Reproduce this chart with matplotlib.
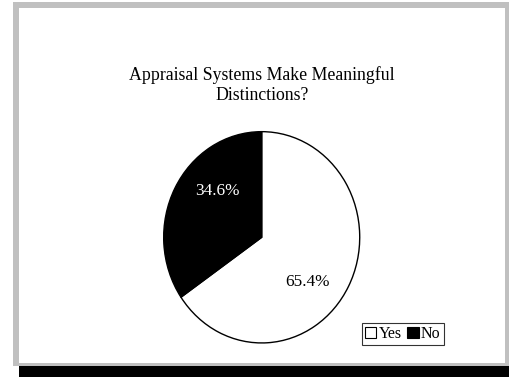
import matplotlib
matplotlib.use("Agg")
import matplotlib.pyplot as plt
from matplotlib.patches import Rectangle, Patch

categories = ["Yes", "No"]
values = [65.4, 34.6]
colors = ["white", "black"]
label_colors = ["black", "white"]
title = "Appraisal Systems Make Meaningful\nDistinctions?"

W, H = 510, 377
fig = plt.figure(figsize=(W / 100, H / 100), dpi=100)
plt.rcParams['font.family'] = ['Liberation Serif', 'DejaVu Serif']

def px_rect(x0, y0, x1, y1, color, z):
    r = Rectangle((x0 / W, 1 - y1 / H), (x1 - x0) / W, (y1 - y0) / H,
                  transform=fig.transFigure, facecolor=color, edgecolor='none', zorder=z)
    fig.add_artist(r)

# frame
px_rect(19, 366, 510, 377, 'black', 0)
px_rect(13, 2, 510, 366, '#c0c0c0', 1)
px_rect(19, 8, 505, 363, 'white', 2)

cx, cy, rx, ry = 261.7, 237.3, 99.0, 106.7
ax = fig.add_axes([(cx - rx) / W, 1 - (cy + ry) / H, 2 * rx / W, 2 * ry / H])
ax.set_zorder(5)
wedges, texts, autotexts = ax.pie(values, colors=colors, startangle=90, counterclock=False,
                                  wedgeprops=dict(edgecolor='black', linewidth=1.0),
                                  autopct='%1.1f%%', pctdistance=0.63,
                                  textprops=dict(fontsize=12.4))
ax.set_aspect('auto')
ax.set_xlim(-1.01, 1.01)
ax.set_ylim(-1.01, 1.01)
ax.axis('off')
label_pos = [(0.47, -0.42), (-0.45, 0.44)]
for t, c, p in zip(autotexts, label_colors, label_pos):
    t.set_color(c)
    t.set_position(p)

fig.text(cx / W, 1 - 85 / H, title, ha='center', va='center', fontsize=12.8,
         linespacing=1.2, zorder=6)

handles = [Patch(facecolor=c, edgecolor='black', linewidth=0.8) for c in colors]
leg = fig.legend(handles, categories, loc='upper left',
                 bbox_to_anchor=(362 / W, 1 - 323 / H), ncol=2, fontsize=11.5,
                 frameon=True, fancybox=False, handlelength=0.7, handleheight=0.7,
                 handletextpad=0.15, columnspacing=0.35, borderpad=0.2,
                 borderaxespad=0)
leg.get_frame().set_edgecolor('black')
leg.get_frame().set_linewidth(0.8)
leg.set_zorder(7)

fig.savefig("out.png", dpi=100)
